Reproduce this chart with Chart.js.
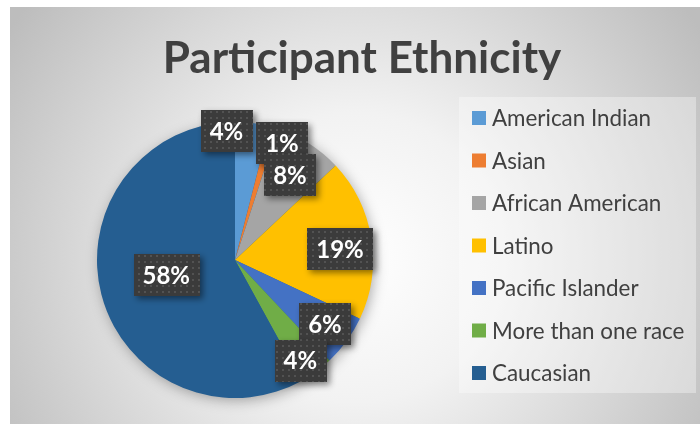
<!DOCTYPE html>
<html>
<head>
<meta charset="utf-8">
<script src="https://cdn.jsdelivr.net/npm/chart.js@4"></script>
<style>
	html, body { margin: 0; padding: 0; background: #fff; }
	#wrap { position: absolute; left: 10px; top: 7px; width: 690px; height: 417px; }
</style>
</head>
<body>
<div id="wrap"><canvas id="ethnicityChart" width="690" height="417"></canvas></div>
<script>
let groups = ['American Indian', 'Asian', 'African American', 'Latino', 'Pacific Islander', 'More than one race', 'Caucasian'];
let shares = [4, 1, 8, 19, 6, 4, 58];
let sliceColors = ['#5B9BD5', '#ED7D31', '#A5A5A5', '#FFC000', '#4472C4', '#70AD47', '#255E91'];

// where each data label sits: fraction of radius, and turn (degrees) from the slice middle
let labelRadius = [0.935, 0.913, 0.733, 0.765, 0.8, 0.87, 0.51];
let labelTurn = [-11, 5.7, 0.5, 3, -0.6, 3, 2];

// dotted dark fill for the label boxes
function makeDots() {
	var c = document.createElement('canvas');
	c.width = 6; c.height = 6;
	var g = c.getContext('2d');
	g.fillStyle = '#3b3b3b';
	g.fillRect(0, 0, 6, 6);
	g.fillStyle = '#525252';
	g.fillRect(2, 2, 2, 2);
	return g.createPattern(c, 'repeat');
}

var backdrop = {
	id: 'backdrop',
	beforeDraw: function(chart) {
		var ctx = chart.ctx, w = chart.width, h = chart.height;
		ctx.save();
		var grad = ctx.createRadialGradient(w / 2, h * 0.6, 0, w / 2, h * 0.6, w * 0.6);
		grad.addColorStop(0, '#ffffff');
		grad.addColorStop(0.35, '#f2f2f2');
		grad.addColorStop(1, '#bdbdbd');
		ctx.fillStyle = grad;
		ctx.fillRect(0, 0, w, h);

		// title
		ctx.fillStyle = '#404040';
		ctx.font = 'bold 44px Lato';
		ctx.textAlign = 'center';
		ctx.textBaseline = 'alphabetic';
		ctx.fillText('Participant Ethnicity', 352, 66);

		// legend box
		ctx.fillStyle = 'rgba(255,255,255,0.35)';
		ctx.fillRect(449, 90, 237, 296);
		ctx.font = '22.4px Lato';
		ctx.textAlign = 'left';
		ctx.textBaseline = 'middle';
		chart.data.labels.forEach(function(name, i) {
			var y = 111 + i * 42.5;
			ctx.fillStyle = chart.data.datasets[0].backgroundColor[i];
			ctx.fillRect(462, y - 7, 14, 14);
			ctx.fillStyle = '#404040';
			ctx.fillText(name, 482, y + 1);
		});
		ctx.restore();
	},
	beforeDatasetsDraw: function(chart) {
		var arc = chart.getDatasetMeta(0).data[0];
		var ctx = chart.ctx;
		ctx.save();
		ctx.shadowColor = 'rgba(0,0,0,0.35)';
		ctx.shadowBlur = 14;
		ctx.shadowOffsetX = 2;
		ctx.shadowOffsetY = 3;
		ctx.fillStyle = '#255E91';
		ctx.beginPath();
		ctx.arc(arc.x, arc.y, arc.outerRadius - 1, 0, Math.PI * 2);
		ctx.fill();
		ctx.restore();
	},
	afterDatasetsDraw: function(chart) {
		var ctx = chart.ctx;
		var dots = makeDots();
		var total = chart.data.datasets[0].data.reduce(function(a, b) { return a + b; }, 0);
		ctx.save();
		ctx.font = 'bold 24px Lato';
		ctx.textAlign = 'center';
		ctx.textBaseline = 'middle';
		chart.getDatasetMeta(0).data.forEach(function(arc, i) {
			var mid = (arc.startAngle + arc.endAngle) / 2 + labelTurn[i] * Math.PI / 180;
			var r = arc.outerRadius * labelRadius[i];
			var x = arc.x + Math.cos(mid) * r;
			var y = arc.y + Math.sin(mid) * r;
			var text = Math.round(chart.data.datasets[0].data[i] / total * 100) + '%';
			var bw = ctx.measureText(text).width + 18;
			var bh = 42;
			ctx.save();
			ctx.shadowColor = 'rgba(0,0,0,0.45)';
			ctx.shadowBlur = 6;
			ctx.shadowOffsetX = 3;
			ctx.shadowOffsetY = 3;
			ctx.fillStyle = dots;
			ctx.fillRect(Math.round(x - bw / 2), Math.round(y - bh / 2), Math.round(bw), bh);
			ctx.restore();
			ctx.fillStyle = '#ffffff';
			ctx.fillText(text, x, y + 1);
		});
		ctx.restore();
	}
};

var ctx = document.getElementById('ethnicityChart').getContext('2d');
var ethnicityChart = new Chart(ctx, {
	type: 'pie',
	data: {
		labels: groups,
		datasets: [{
			data: shares,
			backgroundColor: sliceColors,
			borderWidth: 0
		}]
	},
	options: {
		responsive: false,
		animation: false,
		layout: {
			padding: { top: 115, bottom: 26, left: 87, right: 327 }
		},
		plugins: {
			legend: { display: false },
			tooltip: { enabled: false }
		}
	},
	plugins: [backdrop]
});
</script>
</body>
</html>
